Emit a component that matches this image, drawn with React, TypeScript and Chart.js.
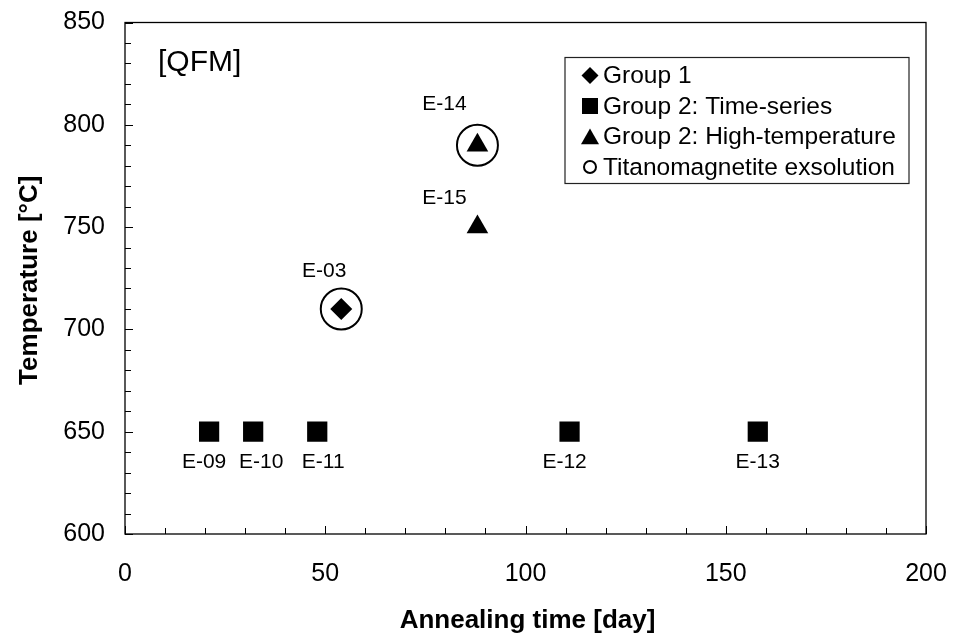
import React, { useEffect, useRef } from "react";
import { Chart, registerables } from "chart.js";

Chart.register(...registerables);

// Sample names, annealing times [day] and temperatures [°C]
const group1Names = ["E-03"];
const group1Days = [54];
const group1Temps = [710];

const timeSeriesNames = ["E-09", "E-10", "E-11", "E-12", "E-13"];
const timeSeriesDays = [21, 32, 48, 111, 158];
const timeSeriesTemps = [650, 650, 650, 650, 650];

const highTempNames = ["E-14", "E-15"];
const highTempDays = [88, 88];
const highTempTemps = [790, 750];

// Runs where titanomagnetite exsolution was observed
const exsolutionDays = [54, 88];
const exsolutionTemps = [710, 790];

const legendLabels = [
  "Group 1",
  "Group 2: Time-series",
  "Group 2: High-temperature",
  "Titanomagnetite exsolution",
];
const legendShapes = ["diamond", "square", "triangle", "circle"];

const xTicks = [0, 50, 100, 150, 200];
const yTicks = [600, 650, 700, 750, 800, 850];

const FONT = "'Liberation Sans', Arial, sans-serif";

// label placement relative to its marker, in pixels
const labelNudge: Record<string, [number, number]> = {
  "E-09": [-5, 31],
  "E-10": [8, 31],
  "E-11": [6, 31],
  "E-12": [-5, 31],
  "E-13": [0, 31],
  "E-03": [-17, -38],
  "E-14": [-33, -41],
  "E-15": [-33, -29],
};

const toPoints = (xs: number[], ys: number[]) => xs.map((x, i) => ({ x, y: ys[i] }));

function drawShape(ctx: CanvasRenderingContext2D, shape: string, x: number, y: number, s: number) {
  ctx.beginPath();
  if (shape === "diamond") {
    ctx.moveTo(x, y - s);
    ctx.lineTo(x + s, y);
    ctx.lineTo(x, y + s);
    ctx.lineTo(x - s, y);
    ctx.closePath();
    ctx.fill();
  } else if (shape === "square") {
    ctx.rect(x - s, y - s, 2 * s, 2 * s);
    ctx.fill();
  } else if (shape === "triangle") {
    ctx.moveTo(x, y - s);
    ctx.lineTo(x + s, y + s * 0.75);
    ctx.lineTo(x - s, y + s * 0.75);
    ctx.closePath();
    ctx.fill();
  } else {
    ctx.arc(x, y, s, 0, Math.PI * 2);
    ctx.stroke();
  }
}

const framePlugin = {
  id: "frameAndAnnotations",
  afterDatasetsDraw(chart: any) {
    const { ctx, chartArea: a, scales } = chart;
    const xs = scales.x;
    const ys = scales.y;
    ctx.save();
    ctx.strokeStyle = "#000";
    ctx.fillStyle = "#000";

    // plot frame
    ctx.lineWidth = 1.3;
    ctx.strokeRect(a.left, a.top, a.right - a.left, a.bottom - a.top);

    // inward tick marks: major every 50, minor every 10
    ctx.lineWidth = 1;
    ctx.beginPath();
    for (let v = xs.min; v <= xs.max; v += 10) {
      const px = Math.round(xs.getPixelForValue(v)) + 0.5;
      const len = v % 50 === 0 ? 8 : 6;
      ctx.moveTo(px, a.bottom);
      ctx.lineTo(px, a.bottom - len);
    }
    for (let v = ys.min; v <= ys.max; v += 10) {
      const py = Math.round(ys.getPixelForValue(v)) + 0.5;
      const len = v % 50 === 0 ? 8 : 6;
      ctx.moveTo(a.left, py);
      ctx.lineTo(a.left + len, py);
    }
    ctx.stroke();

    // sample labels
    ctx.font = `21px ${FONT}`;
    ctx.textAlign = "center";
    ctx.textBaseline = "middle";
    const label = (names: string[], days: number[], temps: number[]) => {
      names.forEach((n, i) => {
        const px = xs.getPixelForValue(days[i]);
        const py = ys.getPixelForValue(temps[i]);
        const [dx, dy] = labelNudge[n] || [0, 0];
        ctx.fillText(n, px + dx, py + dy);
      });
    };
    label(timeSeriesNames, timeSeriesDays, timeSeriesTemps);
    label(group1Names, group1Days, group1Temps);
    label(highTempNames, highTempDays, highTempTemps);

    // redox buffer tag
    ctx.font = `30px ${FONT}`;
    ctx.textAlign = "left";
    ctx.textBaseline = "alphabetic";
    ctx.fillText("[QFM]", a.left + 33, a.top + 48);

    // legend
    const lx = a.left + 440;
    const ly = a.top + 35;
    ctx.fillStyle = "#fff";
    ctx.fillRect(lx, ly, 344, 126);
    ctx.lineWidth = 1.2;
    ctx.strokeStyle = "#222";
    ctx.strokeRect(lx, ly, 344, 126);
    ctx.fillStyle = "#000";
    ctx.strokeStyle = "#000";
    ctx.font = `24.5px ${FONT}`;
    ctx.textBaseline = "middle";
    legendLabels.forEach((t, i) => {
      const cy = ly + 18 + i * 30.5;
      const shape = legendShapes[i];
      ctx.lineWidth = 2;
      const s = shape === "circle" ? 6 : shape === "square" ? 8 : shape === "triangle" ? 9 : 8.5;
      drawShape(ctx, shape, lx + 25, cy + (shape === "triangle" ? 1 : 0), s);
      ctx.fillText(t, lx + 38, cy + 1);
    });

    // axis titles
    ctx.font = `bold 26px ${FONT}`;
    ctx.textAlign = "center";
    ctx.textBaseline = "alphabetic";
    ctx.fillText("Annealing time [day]", (a.left + a.right) / 2 + 2, 628);
    ctx.save();
    ctx.translate(27, (a.top + a.bottom) / 2 + 2);
    ctx.rotate(-Math.PI / 2);
    ctx.fillText("Temperature [°C]", 0, 9.5);
    ctx.restore();

    ctx.restore();
  },
};

export default function App() {
  const ref = useRef<HTMLCanvasElement | null>(null);

  useEffect(() => {
    document.body.style.margin = "0";
    const canvas = ref.current;
    if (!canvas) return;
    const chart = new Chart(canvas, {
      type: "scatter",
      data: {
        datasets: [
          {
            label: legendLabels[0],
            data: toPoints(group1Days, group1Temps),
            pointStyle: "rectRot",
            pointRadius: 11,
            backgroundColor: "#000",
            borderColor: "#000",
            borderWidth: 0,
          },
          {
            label: legendLabels[1],
            data: toPoints(timeSeriesDays, timeSeriesTemps),
            pointStyle: "rect",
            pointRadius: 14.3,
            backgroundColor: "#000",
            borderColor: "#000",
            borderWidth: 0,
          },
          {
            label: legendLabels[2],
            data: toPoints(highTempDays, highTempTemps),
            pointStyle: "triangle",
            pointRadius: 12.5,
            backgroundColor: "#000",
            borderColor: "#000",
            borderWidth: 0,
          },
          {
            label: legendLabels[3],
            data: toPoints(exsolutionDays, exsolutionTemps),
            pointStyle: "circle",
            pointRadius: 20.5,
            backgroundColor: "rgba(0,0,0,0)",
            borderColor: "#000",
            borderWidth: 2,
          },
        ],
      },
      options: {
        animation: false,
        responsive: false,
        devicePixelRatio: 1,
        layout: { padding: { top: 22, right: 27, left: 0, bottom: 0 } },
        plugins: {
          legend: { display: false },
          tooltip: { enabled: false },
        },
        scales: {
          x: {
            type: "linear",
            min: 0,
            max: 200,
            afterBuildTicks: (s: any) => {
              s.ticks = xTicks.map((v) => ({ value: v }));
            },
            afterFit: (s: any) => {
              s.height = 102;
              s.paddingLeft = 0;
              s.paddingRight = 0;
            },
            ticks: {
              font: { family: FONT, size: 25 },
              color: "#000",
              padding: 25,
              maxRotation: 0,
            },
            grid: { display: false, drawTicks: false },
            border: { display: false },
          },
          y: {
            type: "linear",
            min: 600,
            max: 850,
            afterBuildTicks: (s: any) => {
              s.ticks = yTicks.map((v) => ({ value: v }));
            },
            afterFit: (s: any) => {
              s.width = 125;
              s.paddingTop = 0;
              s.paddingBottom = 0;
            },
            ticks: {
              font: { family: FONT, size: 25 },
              color: "#000",
              padding: 20,
            },
            grid: { display: false, drawTicks: false },
            border: { display: false },
          },
        },
      },
      plugins: [framePlugin],
    });
    return () => chart.destroy();
  }, []);

  return (
    <div style={{ width: 953, height: 636 }}>
      <canvas ref={ref} width={953} height={636} style={{ display: "block" }} />
    </div>
  );
}
